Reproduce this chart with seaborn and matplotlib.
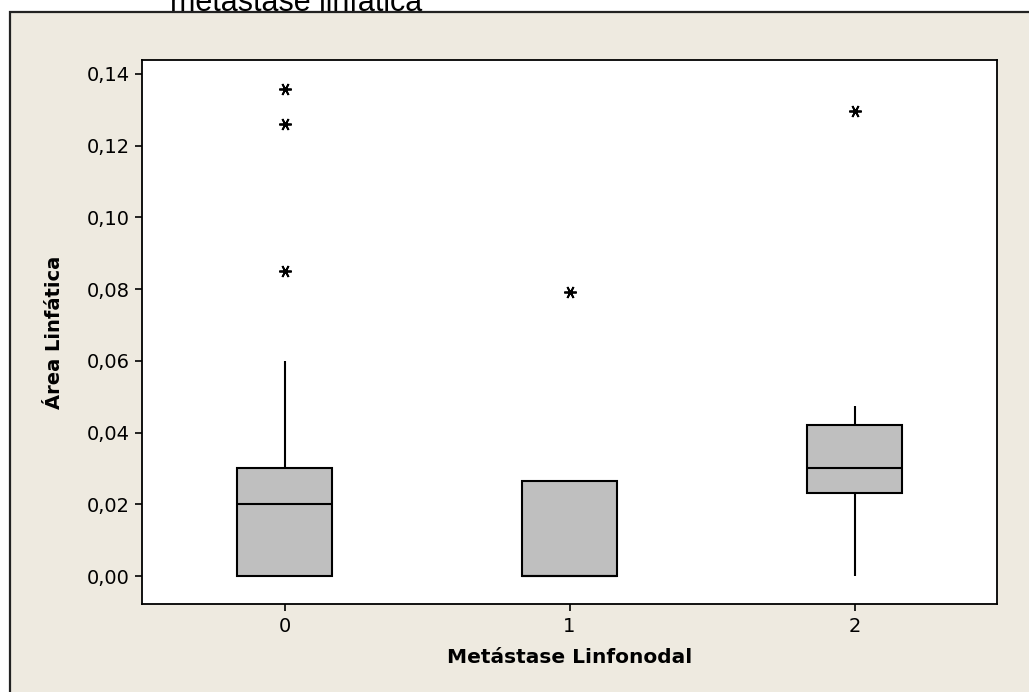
import pandas as pd
import matplotlib.pyplot as plt
import matplotlib.ticker as mticker
from matplotlib.patches import Rectangle
import seaborn as sns

# ─────────────────────────────────────────
# DADOS
# ─────────────────────────────────────────

grupos = ["0", "1", "2"]

area_grupo0 = [0.0, 0.0, 0.0, 0.0, 0.0, 0.005, 0.01, 0.015, 0.02,
               0.022, 0.025, 0.028, 0.03, 0.06, 0.085, 0.126, 0.1357]
area_grupo1 = [0.0, 0.0, 0.0, 0.0, 0.0, 0.01, 0.0265, 0.0265, 0.0793]
area_grupo2 = [0.0, 0.015, 0.0232, 0.027, 0.030, 0.035, 0.0421, 0.0474, 0.1297]

yticks = [0.00, 0.02, 0.04, 0.06, 0.08, 0.10, 0.12, 0.14]

titulo = "metástase linfática"
xlabel = "Metástase Linfonodal"
ylabel = "Área Linfática"

df = pd.DataFrame({
    "metastase": ["0"] * len(area_grupo0) + ["1"] * len(area_grupo1) + ["2"] * len(area_grupo2),
    "area": area_grupo0 + area_grupo1 + area_grupo2,
})

# ─────────────────────────────────────────
# ESTILO
# ─────────────────────────────────────────

sns.set_style("ticks")
plt.rcParams["font.family"] = ["DejaVu Sans"]
plt.rcParams["text.color"] = "black"
plt.rcParams["axes.labelcolor"] = "black"

BEGE = "#EEEAE0"
CINZA = "#BFBFBF"

fig = plt.figure(figsize=(10.29, 6.92), dpi=100)
fig.patch.set_facecolor("white")

# moldura bege (estilo Minitab)
fig.patches.append(Rectangle(
    (10 / 1029, -0.01), 1.0, 1 - 12 / 692 + 0.01,
    transform=fig.transFigure, facecolor=BEGE, edgecolor="#222222",
    linewidth=1.6, zorder=-5
))

ax = fig.add_axes([142 / 1029, 1 - 604 / 692, (997 - 142) / 1029, (604 - 60) / 692])
ax.set_zorder(2)
ax.set_facecolor("white")

sns.boxplot(
    data=df, x="metastase", y="area", order=grupos, ax=ax,
    color=CINZA, width=0.333, linecolor="black", linewidth=1.5,
    showcaps=False, whis=1.5,
    flierprops=dict(marker=(6, 2, 90), markersize=9,
                    markeredgecolor="black", markeredgewidth=1.3),
    boxprops=dict(facecolor=CINZA, edgecolor="black"),
)

ax.set_xlim(-0.5, 2.5)
ax.set_ylim(-0.0078, 0.1439)
ax.set_yticks(yticks)
ax.yaxis.set_major_formatter(mticker.FuncFormatter(lambda v, p: f"{v:.2f}".replace(".", ",")))

for s in ax.spines.values():
    s.set_visible(True)
    s.set_color("black")
    s.set_linewidth(1.3)

ax.tick_params(axis="both", direction="out", length=5, width=1.2,
               labelsize=14, colors="black", pad=4)

ax.set_xlabel(xlabel, fontsize=14.5, fontweight="bold", labelpad=9, color="black")
ax.set_ylabel(ylabel, fontsize=14, fontweight="bold", labelpad=16, color="black")

fig.text(170 / 1029, 1 - 11 / 692, titulo, fontsize=22,
         family=["Liberation Sans", "DejaVu Sans"], va="baseline", ha="left")

plt.savefig("out.png", dpi=100, facecolor=fig.get_facecolor())
plt.close()
